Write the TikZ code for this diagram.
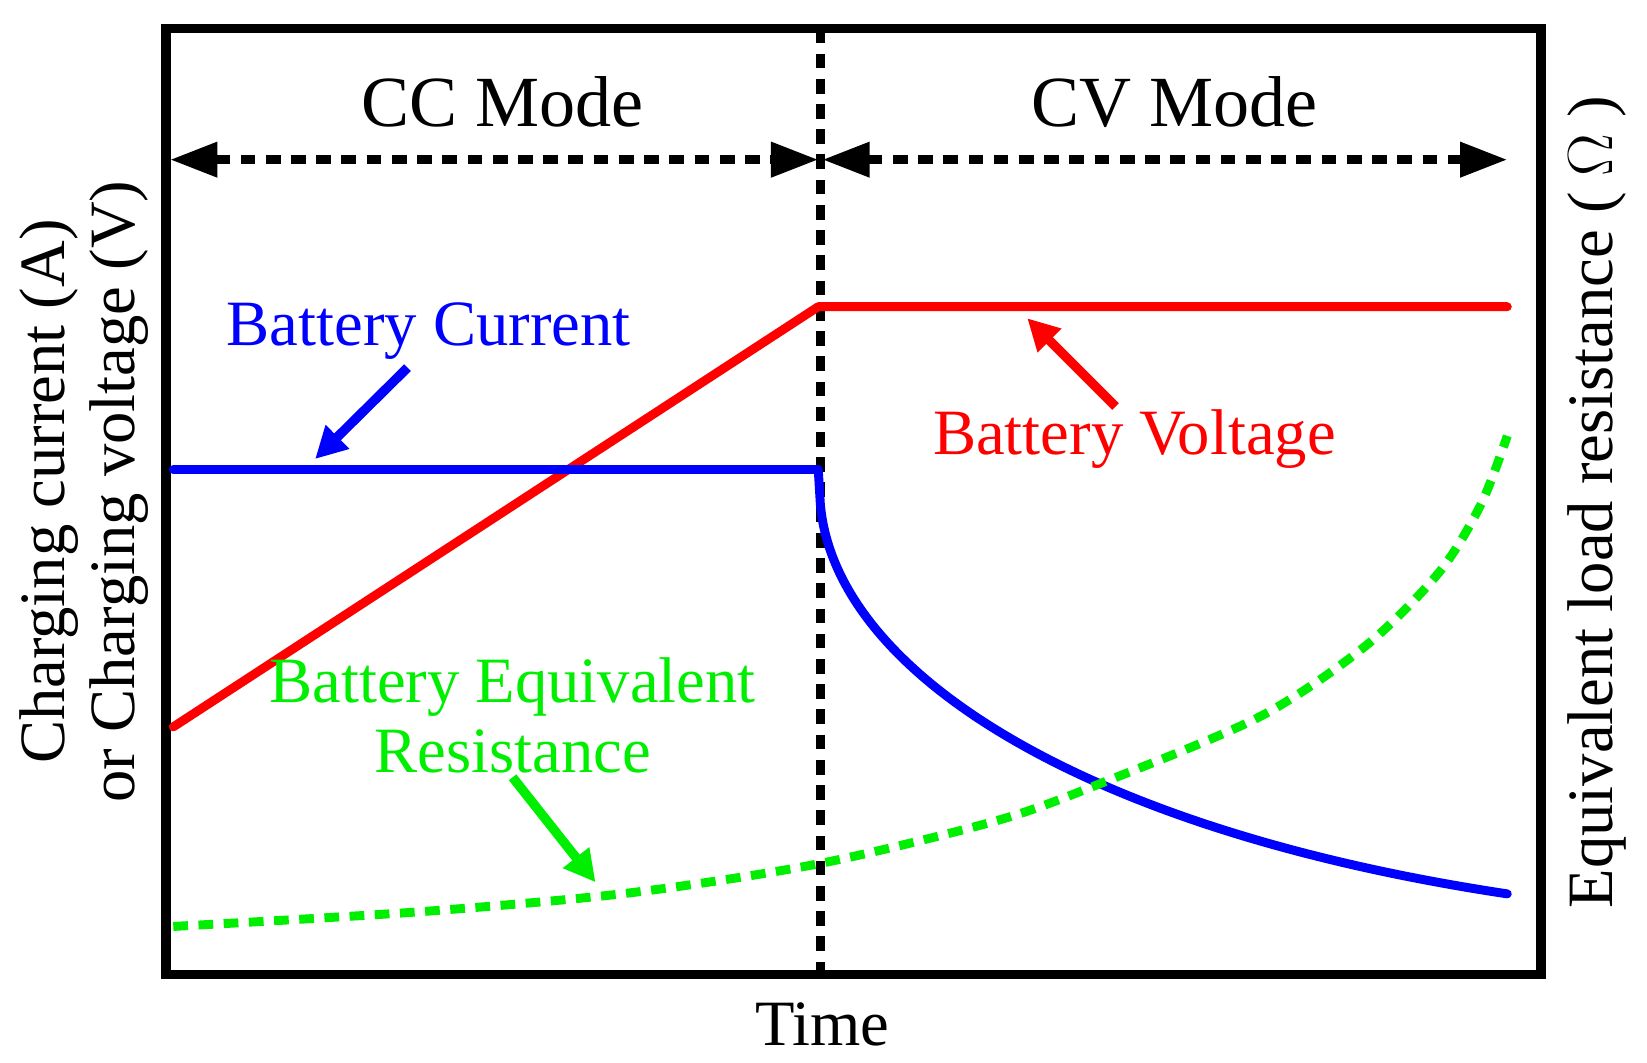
\documentclass[tikz,border=0pt]{standalone}
\usepackage{fontspec}
\setmainfont{Liberation Serif}
\usetikzlibrary{arrows.meta}
\definecolor{vgreen}{RGB}{0,238,0}
\begin{document}
\begin{tikzpicture}[x=0.01cm,y=-0.01cm,
  lbl/.style={font=\fontsize{17.5}{20}\selectfont,inner sep=0},
  big/.style={font=\fontsize{19.5}{22}\selectfont,inner sep=0},
  curve/.style={line width=0.085cm,line cap=round},
  mydash/.style={line width=0.08cm,dash pattern=on 0.14cm off 0.1cm},
  harr/.style={-{Triangle[length=0.3cm,width=0.3cm]},line width=0.09cm}]
\useasboundingbox (0,0) rectangle (1568,1012);
\draw[line width=0.09cm] (158,27) rectangle (1467,928);
\coordinate (vt) at (781,27); \coordinate (vb) at (781,928);
\draw[mydash,line width=0.085cm] (vt) -- (vb);
\coordinate (a1) at (162,152); \coordinate (a2) at (779,152);
\coordinate (a3) at (783,152); \coordinate (a4) at (1435,152);
\draw[mydash,{Triangle[length=0.45cm,width=0.32cm]}-{Triangle[length=0.45cm,width=0.32cm]}] (a1) -- (a2);
\draw[mydash,{Triangle[length=0.45cm,width=0.32cm]}-{Triangle[length=0.45cm,width=0.32cm]}] (a3) -- (a4);
\node[big] (cc) at (478,97) {CC Mode};
\node[big] (cv) at (1118,97) {CV Mode};
% red
\coordinate (r0) at (165,692); \coordinate (r1) at (779,292); \coordinate (r2) at (1435,292);
\draw[curve,red,line join=round] (r0) -- (r1) -- (r2);
% blue
\coordinate (b0) at (165,447); \coordinate (b1) at (779,447); \coordinate (b2) at (1435,851);
\draw[curve,blue,line join=round] (b0) -- (b1) -- (781,480) .. controls (795,640) and (1030,790) .. (b2);
% green
\draw[mydash,vgreen,line width=0.085cm] plot[smooth] coordinates {(165,882) (400,868) (600,850) (781,822) (950,781) (1050,745) (1200,682) (1300,615) (1370,545) (1410,480) (1435,415)};
% arrows
\coordinate (ba1) at (388,350); \coordinate (ba2) at (300,437);
\draw[harr,blue] (ba1) -- (ba2);
\coordinate (ra1) at (1062,387); \coordinate (ra2) at (978,303);
\draw[harr,red] (ra1) -- (ra2);
\coordinate (ga1) at (488,740); \coordinate (ga2) at (567,840);
\draw[harr,vgreen] (ga1) -- (ga2);
\node[lbl,blue] (bc) at (408,315) {Battery Current};
\node[lbl,red] (bv) at (1080,418) {Battery Voltage};
\node[lbl,vgreen,align=center] (be) at (488,681) {Battery Equivalent\\[-1pt]Resistance};
\node[lbl] (t) at (783,975) {Time};
\node[lbl,rotate=90,align=center] (yl) at (80,468) {Charging current (A)\\[-1pt]or Charging voltage (V)};
\node[lbl,rotate=90] (yr) at (1520,478) {Equivalent load resistance ( $\Omega$ )};
\end{tikzpicture}
\end{document}
